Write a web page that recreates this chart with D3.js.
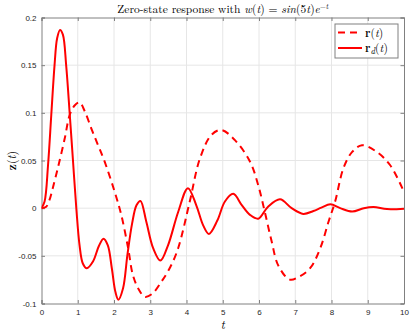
<!DOCTYPE html>
<html>
<head>
<meta charset="utf-8">
<script src="https://cdn.jsdelivr.net/npm/d3@7"></script>
<style>
  html, body { margin: 0; padding: 0; background: #fff; }
  svg { display: block; }
  .tick text { font-family: "Liberation Sans", Arial, sans-serif; font-size: 8px; fill: #262626; }
</style>
</head>
<body>
<div id="chart"></div>
<script>
// Dashed curve r(t)
const rTimes = [0, 0.13, 0.22, 0.31, 0.45, 0.64, 0.78, 0.92, 1.05, 1.2, 1.37, 1.55, 1.74, 2.02, 2.2, 2.39, 2.52, 2.68, 2.85, 3.05, 3.31, 3.55, 3.77, 4.09, 4.37, 4.69, 4.96, 5.33, 5.75, 5.98, 6.16, 6.35, 6.53, 6.85, 7.1, 7.41, 7.69, 7.92, 8.1, 8.33, 8.57, 8.84, 9.25, 9.62, 10]
const rValues = [0, 0.0016, 0.0086, 0.021, 0.042, 0.073, 0.098, 0.108, 0.111, 0.101, 0.084, 0.067, 0.049, 0.017, -0.007, -0.042, -0.07, -0.085, -0.093, -0.09, -0.077, -0.062, -0.042, 0.007, 0.052, 0.077, 0.082, 0.0716, 0.049, 0.024, -0.004, -0.035, -0.06, -0.075, -0.072, -0.063, -0.042, -0.014, 0.007, 0.042, 0.059, 0.066, 0.059, 0.045, 0.017]

// Solid curve r_d(t)
const rdTimes = [0, 0.085, 0.18, 0.27, 0.36, 0.43, 0.51, 0.59, 0.68, 0.78, 0.87, 0.96, 1.05, 1.14, 1.25, 1.42, 1.58, 1.71, 1.83, 1.94, 2.04, 2.12, 2.25, 2.37, 2.5, 2.62, 2.73, 2.89, 3.08, 3.28, 3.49, 3.77, 4.04, 4.27, 4.46, 4.62, 4.85, 5.06, 5.29, 5.52, 5.75, 5.98, 6.25, 6.58, 6.9, 7.22, 7.5, 7.72, 7.97, 8.24, 8.57, 8.89, 9.16, 9.53, 10]
const rdValues = [0, 0.007, 0.045, 0.098, 0.15, 0.178, 0.187, 0.182, 0.15, 0.098, 0.049, 0, -0.039, -0.058, -0.063, -0.056, -0.04, -0.032, -0.039, -0.063, -0.088, -0.096, -0.084, -0.049, -0.016, 0.003, 0.0076, -0.014, -0.042, -0.055, -0.039, -0.004, 0.021, 0.003, -0.018, -0.027, -0.013, 0.007, 0.015, 0.0034, -0.007, -0.011, 0.0016, 0.0093, 0, -0.006, -0.003, 0.0005, 0.004, 0, -0.0036, 0, 0.0013, -0.001, -0.0005]

const xTicks = [0, 1, 2, 3, 4, 5, 6, 7, 8, 9, 10]
const yTicks = [-0.1, -0.05, 0, 0.05, 0.1, 0.15, 0.2]

const width = 411, height = 332
const margin = { top: 17.5, right: 7, bottom: 28.5, left: 41.5 }
const innerW = width - margin.left - margin.right
const innerH = height - margin.top - margin.bottom
const red = "#ff0000"
const axisColor = "#808080"

const svg = d3.select("#chart").append("svg")
  .attr("width", width)
  .attr("height", height)

const x = d3.scaleLinear().domain([0, 10]).range([margin.left, margin.left + innerW])
const y = d3.scaleLinear().domain([-0.1, 0.2]).range([margin.top + innerH, margin.top])

// grid
svg.append("g").selectAll("line")
  .data(xTicks.slice(1, -1))
  .join("line")
    .attr("x1", d => x(d)).attr("x2", d => x(d))
    .attr("y1", y(-0.1)).attr("y2", y(0.2))
    .attr("stroke", "#e6e6e6")
svg.append("g").selectAll("line")
  .data(yTicks.slice(1, -1))
  .join("line")
    .attr("y1", d => y(d)).attr("y2", d => y(d))
    .attr("x1", x(0)).attr("x2", x(10))
    .attr("stroke", "#e6e6e6")

// axes (ticks inward, box on)
const tickLen = 3.5
const xAxis = svg.append("g")
  .attr("transform", `translate(0,${y(-0.1)})`)
  .call(d3.axisBottom(x).tickValues(xTicks).tickFormat(d3.format("d")).tickSize(-tickLen).tickPadding(6))
const xTop = svg.append("g")
  .attr("transform", `translate(0,${y(0.2)})`)
  .call(d3.axisTop(x).tickValues(xTicks).tickFormat("").tickSize(-tickLen))
const yAxis = svg.append("g")
  .attr("transform", `translate(${x(0)},0)`)
  .call(d3.axisLeft(y).tickValues(yTicks).tickFormat(d => d === 0 ? "0" : String(d)).tickSize(-tickLen).tickPadding(5))
const yRight = svg.append("g")
  .attr("transform", `translate(${x(10)},0)`)
  .call(d3.axisRight(y).tickValues(yTicks).tickFormat("").tickSize(-tickLen))

for (const g of [xAxis, xTop, yAxis, yRight]) {
  g.select(".domain").attr("stroke", axisColor)
  g.selectAll(".tick line").attr("stroke", axisColor)
}

// curves
const line = d3.line()
  .x(d => x(d[0]))
  .y(d => y(d[1]))
  .curve(d3.curveCatmullRom.alpha(0.5))

svg.append("clipPath").attr("id", "plotclip")
  .append("rect")
  .attr("x", x(0)).attr("y", y(0.2))
  .attr("width", innerW).attr("height", innerH)

const plot = svg.append("g").attr("clip-path", "url(#plotclip)")

plot.append("path")
  .datum(d3.zip(rTimes, rValues))
  .attr("d", line)
  .attr("fill", "none")
  .attr("stroke", red)
  .attr("stroke-width", 2)
  .attr("stroke-dasharray", "7,5")

plot.append("path")
  .datum(d3.zip(rdTimes, rdValues))
  .attr("d", line)
  .attr("fill", "none")
  .attr("stroke", red)
  .attr("stroke-width", 2)

// title
const serif = "'Latin Modern Roman', 'Liberation Serif', 'DejaVu Serif', serif"
const title = svg.append("text")
  .attr("x", x(5))
  .attr("y", 13)
  .attr("text-anchor", "middle")
  .attr("font-family", serif)
  .attr("font-size", 11.5)
  .attr("fill", "#000")
title.append("tspan").text("Zero-state response with ")
title.append("tspan").attr("font-style", "italic").text("w")
title.append("tspan").text("(")
title.append("tspan").attr("font-style", "italic").text("t")
title.append("tspan").text(") = ")
title.append("tspan").attr("font-style", "italic").text("sin")
title.append("tspan").text("(5")
title.append("tspan").attr("font-style", "italic").text("t")
title.append("tspan").text(")")
title.append("tspan").attr("font-style", "italic").text("e")
title.append("tspan").attr("font-size", 7.5).attr("dy", -4).text("−")
title.append("tspan").attr("font-size", 7.5).attr("font-style", "italic").text("t")

// axis labels
svg.append("text")
  .attr("x", x(5))
  .attr("y", 329)
  .attr("text-anchor", "middle")
  .attr("font-family", serif)
  .attr("font-size", 12)
  .attr("font-style", "italic")
  .text("t")

const yl = svg.append("text")
  .attr("transform", `translate(16,${y(0.05)}) rotate(-90)`)
  .attr("text-anchor", "middle")
  .attr("font-family", serif)
  .attr("font-size", 12)
yl.append("tspan").attr("font-weight", "bold").text("z")
yl.append("tspan").text("(")
yl.append("tspan").attr("font-style", "italic").text("t")
yl.append("tspan").text(")")

// legend
const lg = svg.append("g").attr("transform", "translate(335,24)")
lg.append("rect")
  .attr("width", 63).attr("height", 34)
  .attr("fill", "#fff")
  .attr("stroke", axisColor)

const entries = [
  { dash: "7,5", label: "r", sub: null, yy: 8.5 },
  { dash: null, label: "r", sub: "d", yy: 24 },
]
entries.forEach(e => {
  lg.append("line")
    .attr("x1", 3).attr("x2", 27)
    .attr("y1", e.yy).attr("y2", e.yy)
    .attr("stroke", red)
    .attr("stroke-width", 2)
    .attr("stroke-dasharray", e.dash)
  const t = lg.append("text")
    .attr("x", 30).attr("y", e.yy + 4)
    .attr("font-family", serif)
    .attr("font-size", 11.5)
  t.append("tspan").attr("font-weight", "bold").text(e.label)
  if (e.sub) t.append("tspan").attr("font-style", "italic").attr("font-size", 9).attr("dy", 2).text(e.sub)
  t.append("tspan").attr("dy", e.sub ? -2 : 0).text("(")
  t.append("tspan").attr("font-style", "italic").text("t")
  t.append("tspan").text(")")
})
</script>
</body>
</html>
